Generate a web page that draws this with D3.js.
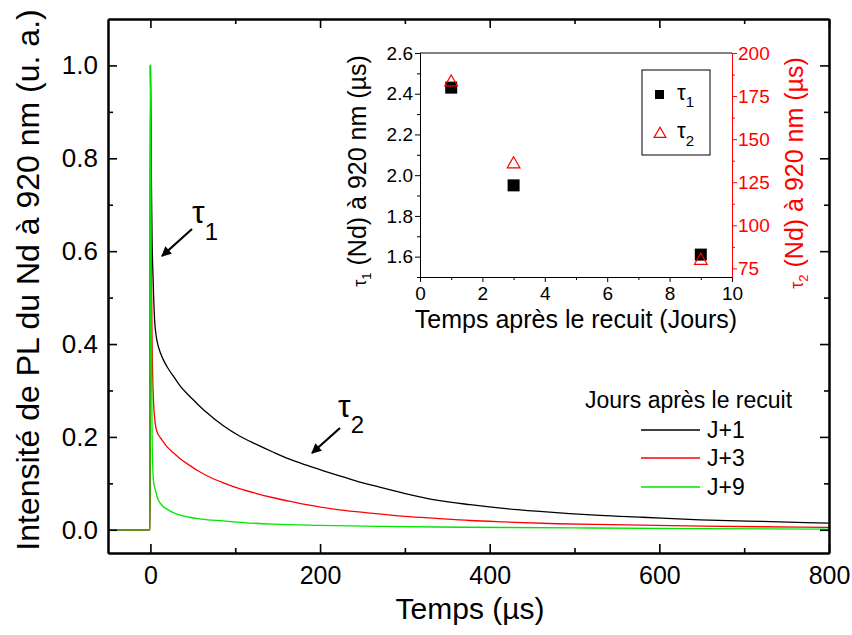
<!DOCTYPE html>
<html><head><meta charset="utf-8">
<script src="https://cdn.jsdelivr.net/npm/d3@7"></script>
<style>
body{margin:0;background:#fff}
svg{font-family:"Liberation Sans",Arial,Helvetica,sans-serif}
</style>
</head><body>
<svg id="c" width="852" height="635"></svg>
<script>
// ---------- main chart data (time in µs, normalised PL intensity) ----------
const tJ1 = [-50,-0.4,0,1,2,3,4,5,7,9,12,15,20,27,35,46,56,66,86,105,125,145,164,184,204,223,243,270,298,337,377,416,455,494,530,580,648,720,800];
const vJ1 = [0,0,1.0,0.78,0.62,0.55,0.49,0.45,0.415,0.397,0.38,0.367,0.35,0.331,0.31,0.288,0.27,0.253,0.224,0.202,0.184,0.167,0.152,0.139,0.127,0.116,0.105,0.092,0.079,0.064,0.054,0.046,0.04,0.035,0.031,0.027,0.0215,0.018,0.0144];
const tJ3 = [-50,-0.4,0,1,2,3,4,5,6,8,10,13,20,27,35,46,56,66,86,105,125,145,165,184,223,259,300,337,377,416,480,542,650,720,800];
const vJ3 = [0,0,1.0,0.6,0.4,0.31,0.265,0.24,0.225,0.21,0.203,0.195,0.178,0.166,0.153,0.139,0.127,0.117,0.101,0.0885,0.078,0.069,0.061,0.054,0.043,0.036,0.029,0.0245,0.02,0.017,0.013,0.011,0.008,0.0065,0.005];
const tJ9 = [-50,-0.4,0,1,2,3,4,6,8,11,15,19,27,36,46,60,86,110,145,200,270,370,500,650,800];
const vJ9 = [0,0,1.0,0.45,0.2,0.125,0.1,0.085,0.07,0.059,0.05,0.045,0.037,0.031,0.027,0.023,0.019,0.0155,0.012,0.0095,0.0073,0.0055,0.004,0.0025,0.0015];
const seriesNames = ["J+1","J+3","J+9"];
const seriesColors = ["#000000","#ff0000","#00e600"];
const xTicks = [0,200,400,600,800];
const xMinor = [100,300,500,700];
const yTicks = [0,0.2,0.4,0.6,0.8,1.0];
const yMinor = [0.1,0.3,0.5,0.7,0.9];

// ---------- inset data ----------
const days = [1,3,9];
const tau1 = [2.43,1.95,1.61];
const tau2 = [183,135.5,79.5];
const insetXTicks = [0,2,4,6,8,10];
const insetXMinor = [1,3,5,7,9];
const insetY1Ticks = [1.6,1.8,2.0,2.2,2.4,2.6];
const insetY1Minor = [1.5,1.7,1.9,2.1,2.3,2.5];
const insetY2Ticks = [75,100,125,150,175,200];
const insetY2Minor = [87.5,112.5,137.5,162.5,187.5];

const svg = d3.select("#c");
const L=108,R=829,T=19,B=553;
const x = d3.scaleLinear().domain([-50,800]).range([L,R]);
const y = d3.scaleLinear().domain([-0.05,1.1]).range([B,T]);

// curves
const series = [[tJ1,vJ1],[tJ3,vJ3],[tJ9,vJ9]];
const line = d3.line().x(d=>x(d[0])).y(d=>y(d[1])).curve(d3.curveMonotoneX);
series.forEach((s,i)=>{
  const pts = s[0].map((t,k)=>[t,s[1][k]]);
  svg.append("path").attr("d",line(pts)).attr("fill","none")
     .attr("stroke",seriesColors[i]).attr("stroke-width",1.3);
});

function styleAxis(g,w){
  g.select(".domain").attr("stroke","#000").attr("stroke-width",w);
  g.selectAll(".tick line").attr("stroke","#000").attr("stroke-width",1.6);
}
// main axes
const fMain = d3.format(".1f");
let g;
g = svg.append("g").attr("transform",`translate(0,${B})`)
  .call(d3.axisBottom(x).tickValues(xTicks).tickSizeInner(-9).tickSizeOuter(0).tickPadding(13).tickFormat(d3.format("d")));
styleAxis(g,2); g.selectAll("text").attr("font-size",25).attr("fill","#000").attr("font-family",null);
g = svg.append("g").attr("transform",`translate(0,${B})`)
  .call(d3.axisBottom(x).tickValues(xMinor).tickSizeInner(-5).tickSizeOuter(0).tickFormat(""));
styleAxis(g,2);
g = svg.append("g").attr("transform",`translate(0,${T})`)
  .call(d3.axisTop(x).tickValues(xTicks).tickSizeInner(-9).tickSizeOuter(0).tickFormat(""));
styleAxis(g,2);
g = svg.append("g").attr("transform",`translate(0,${T})`)
  .call(d3.axisTop(x).tickValues(xMinor).tickSizeInner(-5).tickSizeOuter(0).tickFormat(""));
styleAxis(g,2);
g = svg.append("g").attr("transform",`translate(${L},0)`)
  .call(d3.axisLeft(y).tickValues(yTicks).tickSizeInner(-9).tickSizeOuter(0).tickPadding(10).tickFormat(fMain));
styleAxis(g,2); g.selectAll("text").attr("font-size",26).attr("fill","#000").attr("font-family",null);
g = svg.append("g").attr("transform",`translate(${L},0)`)
  .call(d3.axisLeft(y).tickValues(yMinor).tickSizeInner(-5).tickSizeOuter(0).tickFormat(""));
styleAxis(g,2);
g = svg.append("g").attr("transform",`translate(${R},0)`)
  .call(d3.axisRight(y).tickValues(yTicks).tickSizeInner(-9).tickSizeOuter(0).tickFormat(""));
styleAxis(g,2);
g = svg.append("g").attr("transform",`translate(${R},0)`)
  .call(d3.axisRight(y).tickValues(yMinor).tickSizeInner(-5).tickSizeOuter(0).tickFormat(""));
styleAxis(g,2);

// main titles
svg.append("text").attr("x",470).attr("y",619).attr("text-anchor","middle")
  .attr("font-size",30).text("Temps (µs)");
svg.append("text").attr("transform","translate(39,280) rotate(-90)").attr("text-anchor","middle")
  .attr("font-size",32).text("Intensité de PL du Nd à 920 nm (u. a.)");

// legend
svg.append("text").attr("x",585).attr("y",408).attr("font-size",23).text("Jours après le recuit");
const legY = [430,458,487];
seriesNames.forEach((n,i)=>{
  svg.append("line").attr("x1",641).attr("x2",700).attr("y1",legY[i]).attr("y2",legY[i])
    .attr("stroke",seriesColors[i]).attr("stroke-width",1.3);
  svg.append("text").attr("x",707).attr("y",legY[i]).attr("dy","0.36em").attr("font-size",23).text(n);
});

// arrows + tau annotations
const defs = svg.append("defs");
defs.append("marker").attr("id","ah").attr("viewBox","0 0 10 10").attr("refX",9).attr("refY",5)
  .attr("markerWidth",5).attr("markerHeight",4.5).attr("orient","auto").attr("markerUnits","strokeWidth")
  .append("path").attr("d","M0,0 L10,5 L0,10 z").attr("fill","#000");
function arrow(x1,y1,x2,y2){
  svg.append("line").attr("x1",x1).attr("y1",y1).attr("x2",x2).attr("y2",y2)
    .attr("stroke","#000").attr("stroke-width",2.2).attr("marker-end","url(#ah)");
}
arrow(192,229,162,256);
arrow(340,428,312,453);
function tauLabel(xp,yp,sub,fs,fsSub,dsub){
  const t = svg.append("text").attr("x",xp).attr("y",yp).attr("font-size",fs);
  t.append("tspan").text("τ");
  t.append("tspan").attr("font-size",fsSub).attr("dy",dsub).text(sub);
  return t;
}
tauLabel(192,223,"1",32,24,17);
tauLabel(338,417,"2",32,24,16);

// ---------- inset ----------
const iL=420,iR=732,iT=53,iB=277;
const xi = d3.scaleLinear().domain([0,10]).range([iL,iR]);
const yi1 = d3.scaleLinear().domain([1.5,2.6]).range([iB,iT]);
const yi2 = d3.scaleLinear().domain([70,200]).range([iB,iT]);
svg.append("line").attr("x1",iL).attr("x2",iR).attr("y1",iT).attr("y2",iT).attr("stroke","#000").attr("stroke-width",1);

function styleInset(g,c){
  g.select(".domain").attr("stroke",c).attr("stroke-width",1);
  g.selectAll(".tick line").attr("stroke",c).attr("stroke-width",1);
  g.selectAll("text").attr("font-size",19).attr("fill",c).attr("font-family",null);
}
g = svg.append("g").attr("transform",`translate(0,${iB})`)
  .call(d3.axisBottom(xi).tickValues(insetXTicks).tickSizeInner(5).tickSizeOuter(0).tickPadding(5).tickFormat(d3.format("d")));
styleInset(g,"#000");
g = svg.append("g").attr("transform",`translate(0,${iB})`)
  .call(d3.axisBottom(xi).tickValues(insetXMinor).tickSizeInner(3).tickSizeOuter(0).tickFormat(""));
styleInset(g,"#000");
g = svg.append("g").attr("transform",`translate(${iL},0)`)
  .call(d3.axisLeft(yi1).tickValues(insetY1Ticks).tickSizeInner(5).tickSizeOuter(0).tickPadding(2).tickFormat(d3.format(".1f")));
styleInset(g,"#000");
g = svg.append("g").attr("transform",`translate(${iL},0)`)
  .call(d3.axisLeft(yi1).tickValues(insetY1Minor).tickSizeInner(3).tickSizeOuter(0).tickFormat(""));
styleInset(g,"#000");
g = svg.append("g").attr("transform",`translate(${iR},0)`)
  .call(d3.axisRight(yi2).tickValues(insetY2Ticks).tickSizeInner(5).tickSizeOuter(0).tickPadding(1).tickFormat(d3.format("d")));
styleInset(g,"#ff0000");
g = svg.append("g").attr("transform",`translate(${iR},0)`)
  .call(d3.axisRight(yi2).tickValues(insetY2Minor).tickSizeInner(3).tickSizeOuter(0).tickFormat(""));
styleInset(g,"#ff0000");

// inset points
days.forEach((d,i)=>{
  svg.append("rect").attr("x",xi(d)-6).attr("y",yi1(tau1[i])-6).attr("width",12).attr("height",12).attr("fill","#000");
});
const tri = d3.symbol().type(d3.symbolTriangle).size(70);
days.forEach((d,i)=>{
  svg.append("path").attr("d",tri()).attr("transform",`translate(${xi(d)},${yi2(tau2[i])})`)
    .attr("fill","none").attr("stroke","#ff0000").attr("stroke-width",1.2);
});

// inset titles
svg.append("text").attr("x",576).attr("y",328).attr("text-anchor","middle").attr("font-size",25)
  .text("Temps après le recuit (Jours)");
function rotTitle(xp,yp,sub,col){
  const t = svg.append("text").attr("transform",`translate(${xp},${yp}) rotate(-90)`)
    .attr("text-anchor","middle").attr("font-size",25).attr("fill",col);
  t.append("tspan").attr("font-size",18).text("τ");
  t.append("tspan").attr("font-size",13).attr("dy",5).text(sub);
  t.append("tspan").attr("dy",-5).text(" (Nd) à 920 nm (µs)");
}
rotTitle(366,171,"1","#000");
rotTitle(803,173,"2","#ff0000");

// inset legend
svg.append("rect").attr("x",642).attr("y",70).attr("width",68).attr("height",85)
  .attr("fill","none").attr("stroke","#000").attr("stroke-width",1);
svg.append("rect").attr("x",655).attr("y",90).attr("width",9).attr("height",9).attr("fill","#000");
svg.append("path").attr("d",d3.symbol().type(d3.symbolTriangle).size(60)()).attr("transform","translate(660,134)")
  .attr("fill","none").attr("stroke","#ff0000").attr("stroke-width",1.2);
tauLabel(677,100,"1",22,15,7);
tauLabel(677,138,"2",22,15,8);
</script>
</body></html>
